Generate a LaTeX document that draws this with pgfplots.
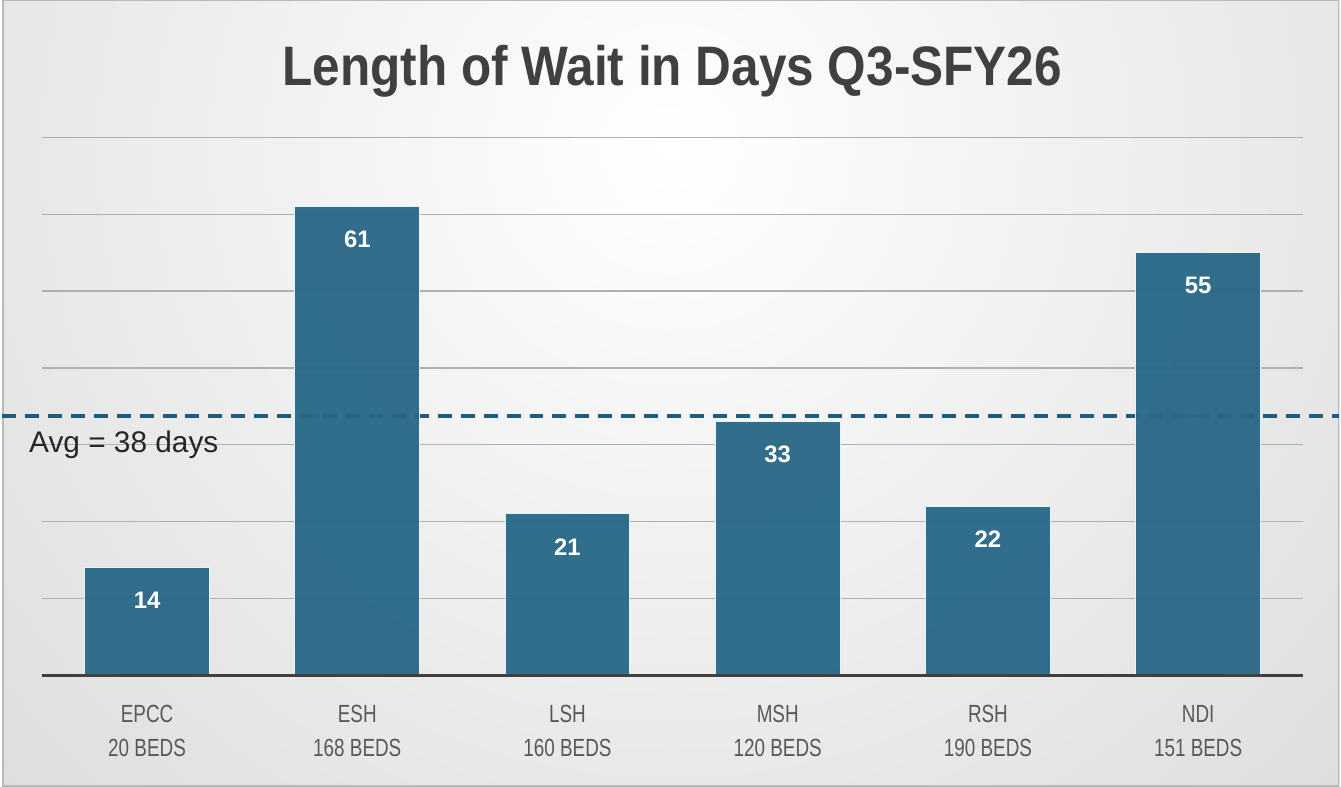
\documentclass[border=0pt]{standalone}
\usepackage{pgfplots}
\pgfplotsset{compat=1.18}
\usepackage{fontspec}
\setmainfont{Liberation Sans}
\newfontfamily\narrowfont[FakeStretch=0.76]{Liberation Sans}
\newfontfamily\titlefont[FakeStretch=0.89]{Liberation Sans}
\definecolor{barc}{HTML}{266686}
\definecolor{avgc}{HTML}{1D5E7E}
\definecolor{labc}{HTML}{595959}
\definecolor{titc}{HTML}{404040}
\definecolor{axc}{HTML}{404040}
\begin{document}
\begin{tikzpicture}[x=1bp,y=1bp]
\begin{scope}
\clip (0,0) rectangle (1341,789);
\shade[inner color=white, outer color=gray!42] (670,640) circle (1500);
\end{scope}
\draw[gray!55, line width=1.5bp] (0.75,0.75) rectangle (1340.25,788.25);
\node[font=\titlefont\bfseries\fontsize{56}{60}\selectfont, text=titc] at (672,718) {Length of Wait in Days Q3-SFY26};
\begin{axis}[
  at={(40bp,112bp)}, anchor=south west,
  scale only axis, width=1265bp, height=539bp,
  xmin=-0.5, xmax=5.5, ymin=0, ymax=70,
  axis line style={draw=none},
  ytick={10,20,...,70}, yticklabels={},
  ymajorgrids, grid style={color=gray!62, line width=1.4bp},
  major tick length=0,
  xtick={0,...,5},
  xticklabels={{EPCC\\20 BEDS},{ESH\\168 BEDS},{LSH\\160 BEDS},{MSH\\120 BEDS},{RSH\\190 BEDS},{NDI\\151 BEDS}},
  xticklabel style={align=center, font=\narrowfont\fontsize{25}{34}\selectfont, text=labc, yshift=-27bp},
  clip=false,
  ybar, bar width=125bp,
  /pgf/number format/assume math mode=true,
  nodes near coords,
  every node near coord/.append style={font=\bfseries\fontsize{24}{28}\selectfont, text=white, anchor=center, yshift=-33bp},
]
\draw[color=avgc, line width=4bp, dash pattern=on 14bp off 9bp] (axis cs:-0.69,33.8) -- (axis cs:5.67,33.8);
\addplot[fill=barc, fill opacity=0.94, draw=cyan!12!white, line width=1bp, text opacity=1] coordinates {(0,14) (1,61) (2,21) (3,33) (4,22) (5,55)};
\draw[line width=3bp, color=axc] (axis cs:-0.5,0) -- (axis cs:5.5,0);
\node[anchor=west, font=\fontsize{30}{32}\selectfont, text=black!85, inner sep=0pt] at (axis cs:-0.5616,30.0) {Avg = 38 days};
\end{axis}
\end{tikzpicture}
\end{document}
